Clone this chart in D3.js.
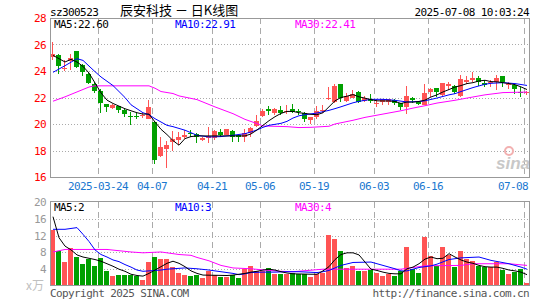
<!DOCTYPE html>
<html>
<head>
<meta charset="utf-8">
<script src="https://cdn.jsdelivr.net/npm/d3@7"></script>
<style>
  body { margin: 0; background: #fff; }
  svg { display: block; }
</style>
</head>
<body>
<div id="chart"></div>
<script>
// trading days shown (one candle each)
var dates = ["2025-03-12","2025-03-13","2025-03-14","2025-03-17","2025-03-18","2025-03-19","2025-03-20","2025-03-21",
  "2025-03-24","2025-03-25","2025-03-26","2025-03-27","2025-03-28","2025-03-31","2025-04-01","2025-04-02","2025-04-03",
  "2025-04-07","2025-04-08","2025-04-09","2025-04-10","2025-04-11","2025-04-14","2025-04-15","2025-04-16","2025-04-17",
  "2025-04-18","2025-04-21","2025-04-22","2025-04-23","2025-04-24","2025-04-25","2025-04-28","2025-04-29","2025-04-30",
  "2025-05-06","2025-05-07","2025-05-08","2025-05-09","2025-05-12","2025-05-13","2025-05-14","2025-05-15","2025-05-16",
  "2025-05-19","2025-05-20","2025-05-21","2025-05-22","2025-05-23","2025-05-26","2025-05-27","2025-05-28","2025-05-29",
  "2025-05-30","2025-06-03","2025-06-04","2025-06-05","2025-06-06","2025-06-09","2025-06-10","2025-06-11","2025-06-12",
  "2025-06-13","2025-06-16","2025-06-17","2025-06-18","2025-06-19","2025-06-20","2025-06-23","2025-06-24","2025-06-25",
  "2025-06-26","2025-06-27","2025-06-30","2025-07-01","2025-07-02","2025-07-03","2025-07-04","2025-07-07","2025-07-08"];

var open = [25.05,25.2,24.15,24.75,25.5,24.45,23.8,23.05,22.5,21.5,21.2,21.35,21.05,20.6,20.6,20.64,20.4,20.15,17.6,18.15,
  18.65,18.8,19.05,19.35,19.25,18.8,18.95,18.95,19.4,19.2,19.5,19.15,19.05,19.3,19.85,20.6,21.15,20.85,21.05,20.9,
  21.15,20.98,20.85,20.3,20.55,21.05,21.9,21.65,23.0,21.75,22.0,22.45,21.75,21.85,21.58,21.65,21.65,21.8,21.6,21.25,
  21.95,21.65,21.4,22.45,22.7,22.2,22.85,22.9,22.1,23.2,23.3,23.5,23.1,23.15,23.2,23.6,22.98,22.95,22.45,22.35];
var close = [25.3,24.4,24.2,25.0,24.3,23.95,23.1,22.5,21.55,21.3,21.45,21.05,20.75,20.58,20.58,20.66,21.3,17.3,18.3,18.45,
  18.9,19.05,19.15,19.25,19.0,18.95,19.1,19.45,19.2,19.6,19.0,19.0,19.3,19.7,20.25,20.95,20.95,21.15,20.8,21.0,
  20.9,20.95,20.4,20.5,21.0,21.08,21.93,22.9,21.95,22.1,22.3,21.65,22.0,21.7,21.6,21.85,21.85,21.55,21.3,22.1,
  21.8,21.5,22.35,22.65,22.4,23.1,23.05,22.45,23.4,23.3,23.5,23.2,22.95,23.18,23.5,23.2,23.0,22.65,22.35,22.4];
var high = [26.2,25.3,24.8,25.3,25.5,24.55,23.85,23.2,22.65,21.5,21.5,21.35,21.1,20.9,20.8,20.85,21.8,20.25,19.0,18.7,
  19.5,19.4,19.55,19.55,19.3,19.0,19.75,19.55,19.6,19.65,19.55,19.2,19.65,19.8,20.65,21.1,21.35,21.2,21.35,21.4,
  21.5,21.15,20.9,20.5,21.35,21.4,22.8,23.0,23.0,22.35,22.55,22.5,22.1,22.25,21.85,21.9,21.9,21.9,21.6,22.9,
  22.05,21.7,23.05,22.7,22.75,23.1,23.2,22.95,23.7,23.6,23.95,23.6,23.3,23.35,23.7,23.6,23.17,23.0,22.8,22.5];
var low = [24.8,23.8,24.0,24.05,24.2,23.65,23.0,22.35,20.85,20.9,21.15,20.85,20.55,19.95,20.4,20.45,20.35,17.0,17.5,16.7,
  18.0,18.4,18.9,19.0,18.55,18.7,18.55,18.8,19.0,19.15,18.65,18.65,18.65,19.0,19.8,20.55,20.65,20.65,20.65,20.75,
  20.8,20.65,20.15,20.0,20.35,20.8,21.8,21.6,21.65,21.65,21.95,21.6,21.65,21.55,21.25,21.4,21.45,21.4,21.05,20.75,
  21.55,21.4,21.4,22.05,22.05,22.15,22.55,22.3,22.05,23.05,23.15,22.9,22.8,22.8,22.55,22.8,22.67,22.3,22.05,22.2];
// volume, in 10k lots
var volume = [13.3,8.4,5.8,9.0,6.8,5.2,6.5,4.7,6.6,3.6,2.4,2.6,2.6,2.7,2.4,1.5,5.7,6.9,6.4,6.4,
  4.5,3.1,2.7,2.4,2.6,1.9,3.5,2.7,2.2,2.2,2.6,2.0,4.0,4.7,3.6,3.5,4.3,2.8,2.8,2.8,
  3.2,2.9,2.9,2.1,2.9,3.2,12.2,11.3,8.25,4.3,4.8,3.5,3.5,3.7,3.1,2.5,2.9,2.5,3.5,9.3,
  4.0,3.1,11.7,7.1,4.7,9.3,7.3,4.5,8.25,6.5,6.0,4.8,4.5,4.5,5.7,3.7,2.8,3.3,4.0,0.8];

// moving average lines: [slot, value]
var ma5 = [[0,25.18],[1,24.93],[2,24.68],[3,24.88],[4,24.68],[5,24.35],[6,23.85],[7,23.1],[8,22.35],[9,21.8],[10,21.55],
  [11,21.35],[12,21.15],[13,21.0],[14,20.85],[15,20.75],[16,20.75],[17,20.15],[18,19.6],[19,19.2],[20,18.75],[21,18.4],
  [22,18.9],[23,19.05],[24,19.1],[28,19.1],[32,19.1],[33,19.25],[34,19.55],[35,19.9],[36,20.25],[37,20.55],[38,20.8],
  [39,20.95],[40,20.95],[41,20.85],[42,20.8],[43,20.73],[44,20.7],[45,20.85],[46,21.3],[47,21.75],[48,22.0],[49,22.1],
  [50,22.22],[51,22.05],[52,21.95],[53,21.84],[54,21.75],[55,21.74],[56,21.74],[57,21.7],[58,21.55],[59,21.66],[60,21.65],
  [61,21.7],[62,21.8],[63,22.04],[64,22.2],[65,22.42],[66,22.6],[67,22.79],[68,22.9],[69,23.05],[70,23.12],[71,23.25],
  [72,23.3],[73,23.2],[74,23.18],[75,23.12],[76,23.05],[77,22.97],[78,22.8],[79,22.6]];
var ma10 = [[0,23.9],[2,24.4],[4,24.93],[5,24.8],[7,23.95],[8,23.55],[10,22.9],[11,22.45],[12,22.0],[13,21.45],[14,21.15],
  [15,20.85],[16,20.7],[17,20.4],[18,20.15],[19,19.9],[20,19.8],[22,19.53],[24,19.15],[26,19.02],[28,19.05],[30,19.15],
  [32,19.27],[33,19.4],[34,19.55],[35,19.75],[36,19.9],[38,20.05],[39,20.2],[40,20.45],[41,20.62],[42,20.7],[44,20.83],
  [46,21.03],[47,21.16],[48,21.3],[50,21.6],[51,21.71],[53,21.86],[55,21.86],[57,21.79],[59,21.66],[61,21.7],[62,21.75],
  [64,21.96],[66,22.2],[67,22.29],[68,22.45],[70,22.75],[72,23.0],[73,23.07],[75,23.12],[77,23.05],[78,22.98],[79,22.91]];
var ma30 = [[0,21.72],[2,22.05],[4,22.42],[6,22.79],[7,22.88],[16,22.88],[17,22.7],[18,22.45],[20,22.3],[21,22.12],
  [24,21.84],[27,21.29],[30,20.78],[32,20.35],[34,20.03],[35,19.85],[39,19.8],[41,19.73],[43,19.75],[46,19.83],[47,20.0],
  [50,20.28],[52,20.5],[55,20.75],[58,21.0],[60,21.2],[62,21.38],[64,21.58],[67,21.79],[70,22.04],[72,22.2],[75,22.37],[79,22.41]];

var vma5 = [[0,16.5],[1,11.5],[2,9.5],[3,8.6],[4,7.4],[5,6.9],[6,6.6],[7,6.3],[8,5.9],[9,5.3],[10,4.7],[11,4.0],[12,3.5],
  [13,2.8],[14,2.5],[15,2.35],[16,3.0],[17,3.8],[18,4.6],[19,5.4],[20,5.9],[21,5.4],[22,4.6],[23,3.6],[24,3.0],[25,2.6],
  [29,2.5],[30,2.6],[31,2.8],[32,3.0],[33,3.3],[34,3.5],[35,3.8],[36,4.0],[37,3.8],[38,3.4],[39,3.1],[40,2.9],[43,2.8],
  [44,2.8],[45,3.6],[46,4.6],[47,6.3],[48,7.5],[49,7.9],[50,7.9],[51,7.4],[52,5.7],[53,4.0],[54,3.7],[55,3.3],[56,3.0],
  [57,2.9],[58,2.9],[59,4.1],[60,4.5],[61,5.3],[62,6.4],[63,6.9],[64,6.5],[65,6.6],[66,7.7],[67,6.9],[68,6.2],[69,5.7],
  [70,5.4],[71,4.9],[72,4.6],[73,4.5],[74,4.5],[75,4.2],[76,3.8],[77,3.6],[78,3.3],[79,2.7]];
var vma10 = [[0,13.5],[2,13.5],[3,13.7],[4,13.9],[5,12.3],[6,10.6],[7,8.6],[8,7.5],[9,6.9],[10,6.2],[11,5.8],[12,5.1],
  [13,4.5],[14,3.8],[15,3.5],[16,3.6],[17,3.7],[18,3.8],[19,4.0],[20,4.1],[22,4.3],[24,4.1],[26,3.8],[28,3.4],[30,3.0],
  [31,2.7],[32,2.9],[33,3.2],[35,3.3],[37,3.3],[39,3.4],[41,3.4],[44,3.2],[45,3.4],[46,3.7],[48,4.9],[50,5.6],[53,5.7],
  [55,4.9],[57,4.1],[58,3.6],[59,3.6],[61,4.4],[63,4.8],[64,5.2],[66,6.3],[68,6.7],[71,6.9],[73,6.1],[76,5.3],[78,4.5],[79,4.0]];
var vma30 = [[0,8.1],[2,8.7],[9,8.7],[13,8.1],[15,7.9],[18,8.1],[21,7.5],[23,7.3],[24,6.8],[26,6.0],[28,4.9],[30,4.3],
  [33,4.1],[36,3.7],[38,3.5],[40,3.4],[45,4.0],[58,4.0],[62,4.8],[68,4.9],[70,5.3],[76,5.3],[79,4.9]];

var priceTicks = [28, 26, 24, 22, 20, 18, 16];
var volTicks = [20, 16, 12, 8, 4];
var tickDates = ["2025-03-24","2025-04-07","2025-04-21","2025-05-06","2025-05-19","2025-06-03","2025-06-16","2025-07-08"];
var tickText = ["2025-03-24","04-07","04-21","05-06","05-19","06-03","06-16","07-08"];

var RED = '#ff5454', GREEN = '#00a000', GRID = '#aaaaaa', FONT = "'DejaVu Sans Mono', monospace";

var svg = d3.select('#chart').append('svg').attr('width', 545).attr('height', 300);

var x = d3.scaleBand().domain(dates).range([50, 530]);
var yP = d3.scaleLinear().domain([16, 28]).range([177, 18]);
var yV = d3.scaleLinear().domain([0, 20]).range([286, 202]);

// fixed-pitch text, about 6px per character like the original bitmap font
function label(g, tx, ty, s, color, anchor) {
    return g.append('text')
        .attr('x', tx).attr('y', ty)
        .attr('text-anchor', anchor || 'start')
        .attr('fill', color)
        .attr('font-family', FONT)
        .attr('font-size', 11)
        .attr('letter-spacing', -0.6)
        .text(s);
}

// header
label(svg, 50, 15.5, 'sz300523', '#000');
svg.append('text').attr('x', 120).attr('y', 15)
    .attr('font-family', "'Noto Sans CJK SC', sans-serif").attr('font-size', 13)
    .attr('fill', '#000').text('辰安科技 － 日K线图');
label(svg, 529, 15.5, '2025-07-08 10:03:24', '#000', 'end');

function panel(y, ticks, top, bottom) {
    var g = svg.append('g').attr('shape-rendering', 'crispEdges');
    g.selectAll('line.h').data(ticks.filter(function (t) { return y(t) > top + 1 && y(t) < bottom - 1; }))
        .enter().append('line')
        .attr('x1', 50).attr('x2', 529)
        .attr('y1', function (t) { return Math.round(y(t)) + 0.5; })
        .attr('y2', function (t) { return Math.round(y(t)) + 0.5; })
        .attr('stroke', GRID).attr('stroke-dasharray', '1,2');
    g.selectAll('line.v').data(tickDates).enter().append('line')
        .attr('x1', function (d) { return x(d) + 0.5; })
        .attr('x2', function (d) { return x(d) + 0.5; })
        .attr('y1', top).attr('y2', bottom)
        .attr('stroke', GRID).attr('stroke-dasharray', '6,4');
    return g;
}

function maLine(g, pts, y, color) {
    g.append('path')
        .datum(pts)
        .attr('fill', 'none')
        .attr('stroke', color)
        .attr('stroke-width', 1)
        .attr('d', d3.line()
            .x(function (p) { return x(dates[p[0]]) + 3; })
            .y(function (p) { return y(p[1]); }));
}

// ---- price panel
panel(yP, priceTicks, 18, 177);

var candles = svg.append('g').attr('shape-rendering', 'crispEdges');
dates.forEach(function (d, i) {
    var up = close[i] >= open[i];
    var col = up ? RED : GREEN;
    var cx = x(d) + 2.5;
    candles.append('line')
        .attr('x1', cx).attr('x2', cx)
        .attr('y1', yP(high[i])).attr('y2', yP(low[i]))
        .attr('stroke', col);
    var top = yP(Math.max(open[i], close[i]));
    var h = Math.abs(yP(open[i]) - yP(close[i]));
    candles.append('rect')
        .attr('x', x(d)).attr('y', top)
        .attr('width', 5).attr('height', Math.max(1, h))
        .attr('fill', col);
});

var maG = svg.append('g');
maLine(maG, ma30, yP, '#ff00ff');
maLine(maG, ma10, yP, '#0000ff');
maLine(maG, ma5, yP, '#000000');

// sina watermark
svg.append('circle').attr('cx', 509).attr('cy', 151).attr('r', 4)
    .attr('fill', 'none').attr('stroke', '#f2b0b0').attr('stroke-width', 2);
svg.append('text').attr('x', 496).attr('y', 169)
    .attr('font-family', 'Arial, sans-serif').attr('font-size', 17)
    .attr('font-weight', 'bold').attr('font-style', 'italic')
    .attr('fill', '#c8c8c8').text('sina');

svg.append('rect').attr('x', 50.5).attr('y', 18.5).attr('width', 479).attr('height', 159)
    .attr('fill', 'none').attr('stroke', '#999').attr('shape-rendering', 'crispEdges');

priceTicks.forEach(function (t) {
    label(svg, 46, yP(t) + 4, String(t), '#ff0000', 'end');
});

label(svg, 54, 28, 'MA5:22.60', '#000');
label(svg, 175, 28, 'MA10:22.91', '#0000ff');
label(svg, 295, 28, 'MA30:22.41', '#ff00ff');

// date axis
tickDates.forEach(function (d, i) {
    var w = tickText[i].length * 6;
    var cx = Math.min(x(d), 528 - w / 2);
    label(svg, cx, 190, tickText[i], '#1a78d0', 'middle');
});

// ---- volume panel
panel(yV, volTicks, 202, 286);

svg.append('g').attr('shape-rendering', 'crispEdges')
    .selectAll('rect').data(dates).enter().append('rect')
    .attr('x', function (d) { return x(d); })
    .attr('y', function (d, i) { return yV(volume[i]); })
    .attr('width', 5)
    .attr('height', function (d, i) { return yV(0) - yV(volume[i]); })
    .attr('fill', function (d, i) { return close[i] >= open[i] ? RED : GREEN; });

var vmaG = svg.append('g');
maLine(vmaG, vma30, yV, '#ff00ff');
maLine(vmaG, vma10, yV, '#0000ff');
maLine(vmaG, vma5, yV, '#000000');

svg.append('rect').attr('x', 50.5).attr('y', 201.5).attr('width', 479).attr('height', 84)
    .attr('fill', 'none').attr('stroke', '#999').attr('shape-rendering', 'crispEdges');

volTicks.forEach(function (t) {
    label(svg, 46, yV(t) + 4, String(t), '#999', 'end');
});
svg.append('text').attr('x', 44).attr('y', 290).attr('text-anchor', 'end')
    .attr('font-family', "'Noto Sans CJK SC', sans-serif").attr('font-size', 12)
    .attr('fill', '#c0c0c0').text('x万');

label(svg, 54, 211, 'MA5:2', '#000');
label(svg, 175, 211, 'MA10:3', '#0000ff');
label(svg, 295, 211, 'MA30:4', '#ff00ff');

// footer
label(svg, 50, 297, 'Copyright 2025 SINA.COM', '#555');
label(svg, 529, 297, 'http://finance.sina.com.cn', '#555', 'end');
</script>
</body>
</html>
